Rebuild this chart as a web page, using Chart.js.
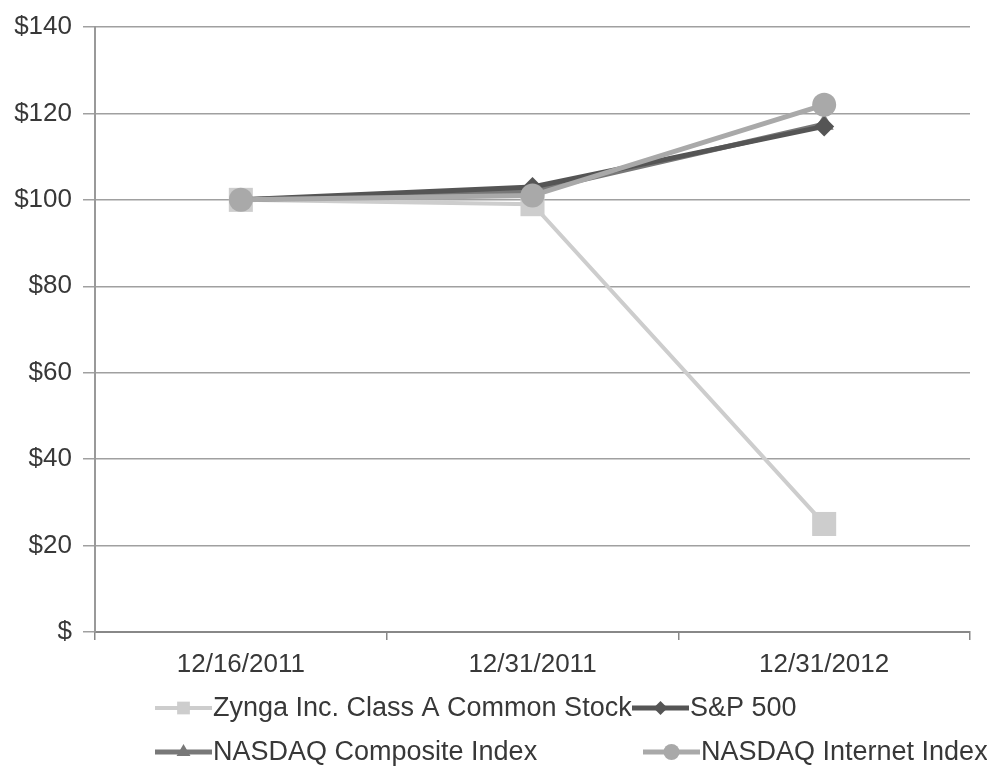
<!DOCTYPE html>
<html>
<head>
<meta charset="utf-8">
<script src="https://cdn.jsdelivr.net/npm/chart.js@4/dist/chart.umd.min.js"></script>
<style>
html,body{margin:0;padding:0;background:#fff;}
#wrap{width:987px;height:771px;position:relative;}
</style>
</head>
<body>
<div id="wrap"><canvas id="c" width="987" height="771"></canvas></div>
<script>
const categories = ["12/16/2011", "12/31/2011", "12/31/2012"];
const zyngaValues = [100, 99, 25];
const sp500Values = [100, 103, 117];
const nasdaqCompositeValues = [100, 102, 117.5];
const nasdaqInternetValues = [100, 101, 122];
const yTickValues = [0, 20, 40, 60, 80, 100, 120, 140];
const seriesNames = ["Zynga Inc. Class A Common Stock", "S&P 500", "NASDAQ Composite Index", "NASDAQ Internet Index"];

const FONT = "'Liberation Sans', Arial, Helvetica, sans-serif";

const legendPlugin = {
  id: 'gridLegend',
  afterDraw(chart) {
    const ctx = chart.ctx;
    const slots = [
      {ds: 0, x: 155, y: 708, w: 57},
      {ds: 1, x: 632, y: 708, w: 57},
      {ds: 2, x: 155, y: 752, w: 57},
      {ds: 3, x: 643, y: 752, w: 57}
    ];
    ctx.save();
    slots.forEach(s => {
      const d = chart.data.datasets[s.ds];
      ctx.strokeStyle = d.borderColor;
      ctx.lineWidth = d.borderWidth;
      ctx.beginPath();
      ctx.moveTo(s.x, s.y);
      ctx.lineTo(s.x + s.w, s.y);
      ctx.stroke();
      ctx.fillStyle = d.pointBackgroundColor;
      ctx.strokeStyle = d.pointBorderColor;
      Chart.helpers.drawPoint(ctx, {pointStyle: d.pointStyle, radius: d.legendRadius, borderWidth: 0, rotation: 0}, s.x + s.w / 2, s.y);
      ctx.fillStyle = '#383838';
      ctx.font = '27px ' + FONT;
      ctx.textBaseline = 'middle';
      ctx.textAlign = 'left';
      ctx.fillText(d.label, s.x + s.w + 1, s.y + 1);
    });
    ctx.restore();
  }
};

const ds = (label, data, color, style, radius, lw, order, lr) => ({
  label, data,
  borderColor: color, backgroundColor: color,
  pointBackgroundColor: color, pointBorderColor: color,
  pointBorderWidth: 0, pointStyle: style, pointRadius: radius, pointHoverRadius: radius,
  borderWidth: lw, tension: 0, order, legendRadius: lr
});

new Chart(document.getElementById('c'), {
  type: 'line',
  data: {
    labels: categories,
    datasets: [
      ds(seriesNames[0], zyngaValues, '#cdcdcd', 'rect', 17, 4, 4, 9),
      ds(seriesNames[1], sp500Values, '#555555', 'rectRot', 10, 5, 2, 7),
      ds(seriesNames[2], nasdaqCompositeValues, '#787878', 'triangle', 11, 5, 3, 8),
      ds(seriesNames[3], nasdaqInternetValues, '#a9a9a9', 'circle', 12, 5, 1, 8)
    ]
  },
  options: {
    responsive: false,
    animation: false,
    devicePixelRatio: 1,
    layout: {padding: {left: 0, right: 14, top: 27, bottom: 89}},
    plugins: {legend: {display: false}, tooltip: {enabled: false}},
    scales: {
      x: {
        type: 'category',
        offset: true,
        afterFit(s) { s.height = 50; },
        grid: {display: true, drawOnChartArea: false, drawTicks: true, tickLength: 8, color: '#888', lineWidth: 1.5, offset: true},
        border: {display: true, color: '#888', width: 2},
        ticks: {color: '#383838', font: {family: FONT, size: 26}, padding: 9, maxRotation: 0}
      },
      y: {
        min: 0, max: 140,
        afterFit(s) { s.width = 95; },
        afterBuildTicks(s) { s.ticks = yTickValues.map(v => ({value: v})); },
        grid: {color: '#a0a0a0', lineWidth: 1.5, drawTicks: true, tickLength: 12},
        border: {display: true, color: '#999', width: 2},
        ticks: {color: '#383838', font: {family: FONT, size: 26}, padding: 11,
          callback: v => v === 0 ? '$' : '$' + v}
      }
    }
  },
  plugins: [legendPlugin]
});
</script>
</body>
</html>
